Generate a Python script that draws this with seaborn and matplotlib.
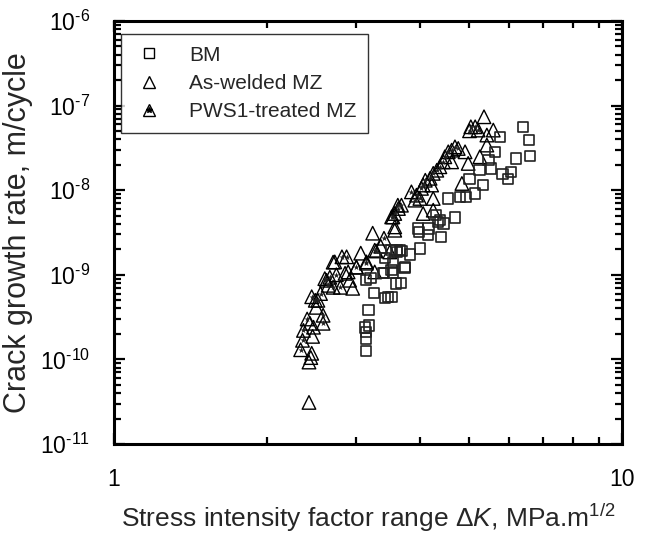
import matplotlib
matplotlib.use("Agg")
import numpy as np
import pandas as pd
import matplotlib.pyplot as plt
import seaborn as sns
from matplotlib.lines import Line2D
from matplotlib.legend_handler import HandlerTuple
from matplotlib.ticker import LogLocator, FixedLocator, FixedFormatter, FuncFormatter

# BM (open squares)
bm_dk = [3.13, 3.13, 3.13, 3.12, 3.18, 3.17, 3.25, 3.42, 3.46, 3.13, 3.20, 3.40,
         3.54, 3.59, 3.38, 3.67, 3.74, 3.42, 3.54, 3.52, 3.60, 3.68, 3.82, 4.00,
         4.40, 4.15, 3.99, 4.16, 3.97, 4.34, 4.38, 4.45, 4.30, 4.69, 4.55, 4.80,
         4.93, 5.14, 5.33, 5.01, 5.82, 5.97, 6.04, 5.24, 5.52, 5.46, 6.18, 6.59,
         5.62, 5.75, 6.57, 6.39, 3.66, 3.61, 3.73, 3.52, 3.52]
bm_rate = [1.25e-10, 1.77e-10, 2.09e-10, 2.39e-10, 2.52e-10, 3.80e-10, 6.04e-10,
           5.27e-10, 5.42e-10, 8.61e-10, 9.09e-10, 1.04e-9, 1.04e-9, 7.87e-10,
           1.04e-9, 7.93e-10, 1.23e-9, 1.57e-9, 1.42e-9, 1.95e-9, 1.95e-9, 1.91e-9,
           1.73e-9, 2.04e-9, 2.80e-9, 2.93e-9, 3.21e-9, 3.52e-9, 3.52e-9, 4.22e-9,
           4.42e-9, 4.04e-9, 5.06e-9, 4.75e-9, 7.98e-9, 8.34e-9, 8.34e-9, 9.14e-9,
           1.15e-8, 1.35e-8, 1.55e-8, 1.35e-8, 1.65e-8, 1.72e-8, 1.81e-8, 2.26e-8,
           2.37e-8, 2.52e-8, 2.84e-8, 4.27e-8, 3.91e-8, 5.61e-8, 1.95e-9, 1.86e-9,
           1.20e-9, 5.46e-10, 1.13e-9]

# As-welded MZ (open triangles)
aw_dk = [2.42, 2.42, 2.45, 2.46, 2.43, 2.50, 2.95, 2.85, 2.91, 2.70, 3.00, 3.06,
         2.89, 2.72, 3.26, 3.23, 3.35, 3.49, 3.57, 3.57, 4.06, 4.25, 4.25, 4.22,
         4.84, 4.98, 4.62, 4.91, 5.25, 5.42, 5.42, 5.58, 5.35, 2.44, 2.47]
aw_rate = [3.1e-11, 9.3e-11, 1.18e-10, 1.87e-10, 2.67e-10, 4.12e-10, 6.92e-10,
           1.04e-9, 8.61e-10, 1.41e-9, 1.23e-9, 1.80e-9, 1.08e-9, 1.42e-9, 1.08e-9,
           3.10e-9, 2.17e-9, 1.86e-9, 3.36e-9, 3.68e-9, 5.30e-9, 5.80e-9, 7.98e-9,
           1.15e-8, 1.20e-8, 2.07e-8, 2.16e-8, 2.84e-8, 2.48e-8, 3.41e-8, 4.48e-8,
           5.13e-8, 7.37e-8, 1.05e-10, 2.40e-10]

# PWS1-treated MZ (triangles with dark centre)
pws_dk = [2.33, 2.35, 2.36, 2.58, 2.58, 2.49, 2.52, 2.62, 2.66, 2.70, 2.79, 3.00,
          3.14, 3.14, 2.81, 2.87, 3.40, 3.28, 3.26, 3.62, 3.54, 5.04, 5.14, 5.21,
          5.01, 4.69, 4.76, 4.62, 4.55, 4.48, 4.45, 4.38, 4.32, 4.25, 4.19, 4.10,
          4.06, 4.03, 3.85, 3.94, 4.00, 3.91, 3.68, 3.63, 3.57, 3.52, 2.40, 2.45,
          2.55, 2.60, 2.64, 2.74]
pws_rate = [1.30e-10, 1.68e-10, 2.20e-10, 2.67e-10, 3.32e-10, 4.99e-10, 4.99e-10,
            8.61e-10, 9.34e-10, 7.11e-10, 7.11e-10, 1.23e-9, 1.37e-9, 1.42e-9,
            1.63e-9, 1.63e-9, 2.70e-9, 1.91e-9, 1.95e-9, 6.64e-9, 4.83e-9, 5.61e-8,
            5.61e-8, 5.13e-8, 5.03e-8, 3.25e-8, 3.11e-8, 2.97e-8, 2.84e-8, 2.48e-8,
            2.16e-8, 1.89e-8, 1.72e-8, 1.58e-8, 1.38e-8, 1.31e-8, 1.15e-8, 1.05e-8,
            9.55e-9, 8.73e-9, 7.98e-9, 7.62e-9, 6.64e-9, 6.07e-9, 5.30e-9, 4.83e-9,
            3.0e-10, 5.5e-10, 6.0e-10, 9.0e-10, 7.5e-10, 1.0e-9]

labels = ["BM", "As-welded MZ", "PWS1-treated MZ"]

sns.set_style("ticks")
plt.rcParams["font.family"] = ["Liberation Sans", "DejaVu Sans"]
plt.rcParams["mathtext.fontset"] = "custom"
plt.rcParams["mathtext.rm"] = "Liberation Sans"
plt.rcParams["mathtext.it"] = "Liberation Sans:italic"

fig = plt.figure(figsize=(6.53, 5.37), dpi=100)
ax = fig.add_axes([0.1746, 0.1732, 0.7779, 0.7878])

bm = pd.DataFrame({"dk": bm_dk, "rate": bm_rate})
aw = pd.DataFrame({"dk": aw_dk, "rate": aw_rate})
pws = pd.DataFrame({"dk": pws_dk, "rate": pws_rate})

sns.scatterplot(data=aw, x="dk", y="rate", marker="^", s=95, facecolor="none",
                edgecolor="black", linewidth=1.0, ax=ax, legend=False)
sns.scatterplot(data=pws, x="dk", y="rate", marker="^", s=95, facecolor="none",
                edgecolor="black", linewidth=1.0, ax=ax, legend=False)
sns.scatterplot(data=pws, x="dk", y="rate", marker="*", s=22, color="#222222",
                linewidth=0, ax=ax, legend=False)
sns.scatterplot(data=bm, x="dk", y="rate", marker="s", s=55, facecolor="none",
                edgecolor="#222222", linewidth=1.2, ax=ax, legend=False)

ax.set_xscale("log")
ax.set_yscale("log")
ax.set_xlim(1, 10)
ax.set_ylim(1e-11, 1e-6)

ax.xaxis.set_major_locator(FixedLocator([1, 10]))
ax.xaxis.set_major_formatter(FixedFormatter(["1", "10"]))
ax.xaxis.set_minor_locator(LogLocator(base=10, subs=np.arange(2, 10)))
ax.yaxis.set_major_locator(LogLocator(base=10, numticks=10))
ax.yaxis.set_minor_locator(LogLocator(base=10, subs=np.arange(2, 10), numticks=20))
ax.yaxis.set_major_formatter(
    FuncFormatter(lambda v, p: "10$^{\u2010%d}$" % round(-np.log10(v))))
ax.xaxis.set_minor_formatter(plt.NullFormatter())
ax.yaxis.set_minor_formatter(plt.NullFormatter())

ax.tick_params(which="both", direction="in", top=True, right=True, width=1.6,
               labelsize=16.5, colors="black")
ax.tick_params(which="major", length=8)
ax.tick_params(which="minor", length=5)
ax.tick_params(axis="x", which="major", pad=17)
ax.tick_params(axis="y", which="major", pad=17)
for sp in ax.spines.values():
    sp.set_linewidth(2.2)
    sp.set_color("black")

ax.set_xlabel(r"Stress intensity factor range $\mathit{\Delta K}$, MPa.m$^{1/2}$",
              fontsize=19, labelpad=8)
ax.set_ylabel("Crack growth rate, m/cycle", fontsize=22, labelpad=5)

h_bm = Line2D([], [], linestyle="none", marker="s", markersize=7,
              markerfacecolor="none", markeredgecolor="black", markeredgewidth=1.0)
h_aw = Line2D([], [], linestyle="none", marker="^", markersize=8,
              markerfacecolor="none", markeredgecolor="black", markeredgewidth=1.0)
h_dot = Line2D([], [], linestyle="none", marker="*", markersize=4,
               markerfacecolor="black", markeredgecolor="black")
leg = ax.legend([h_bm, h_aw, (h_aw, h_dot)], labels, loc="upper left",
                bbox_to_anchor=(0.014, 0.969), borderaxespad=0, fontsize=15,
                frameon=True, fancybox=False, edgecolor="black", handlelength=1.6,
                handletextpad=1.1, borderpad=0.55, labelspacing=0.45,
                handler_map={tuple: HandlerTuple(ndivide=1, pad=0)})
leg.get_frame().set_linewidth(1.0)

fig.savefig("out.png", dpi=100)
